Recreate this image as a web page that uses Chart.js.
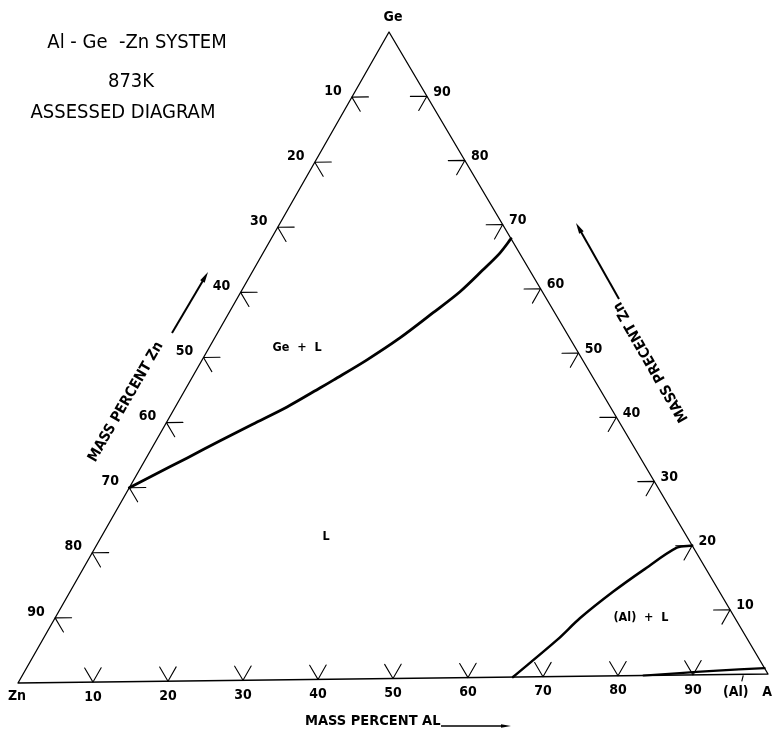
<!DOCTYPE html>
<html>
<head>
<meta charset="utf-8">
<title>Al-Ge-Zn system, 873 K</title>
<script src="https://cdn.jsdelivr.net/npm/chart.js@4.4.1/dist/chart.umd.min.js"></script>
<style>
  html, body { margin: 0; padding: 0; background: #fff; }
  #wrap { width: 773px; height: 729px; position: relative; }
</style>
</head>
<body>
<div id="wrap"><canvas id="chart"></canvas></div>
<script>
// ---- Data: compositions in mass percent (Al, Ge); Zn is the balance ----
const gridValues = [10, 20, 30, 40, 50, 60, 70, 80, 90];
const leftTickLabels = ['10', '20', '30', '40', '50', '60', '70', '80', '90'];   // mass % Zn on the Ge-Zn side
const rightTickLabels = ['10', '20', '30', '40', '50', '60', '70', '80', '90'];  // mass % Ge on the Al-Ge side
const bottomTickLabels = ['10', '20', '30', '40', '50', '60', '70', '80', '90']; // mass % Al on the Zn-Al side

// Ge + L / L boundary (Ge liquidus)
const geLiquidusAl = [0, 2.2, 5.5, 8.6, 11.7, 15.0, 18.0, 19.2, 22.1, 24.9, 27.4, 29.4, 30.8, 31.8, 32.2];
const geLiquidusGe = [30, 31.8, 34.5, 37.1, 39.6, 42.2, 45.1, 46.3, 49.3, 52.7, 56.5, 59.7, 63.0, 65.6, 67.8];

// (Al) + L / L boundary (Al liquidus)
const alLiquidusAl = [66.0, 69.1, 70.5, 72.9, 75.3, 78.1, 80.0];
const alLiquidusGe = [0, 5.7, 9.0, 13.0, 16.3, 19.7, 20.0];

// (Al) / (Al) + L boundary (Al solidus)
const alSolidusAl = [83.4, 88.1, 92.4, 99.1];
const alSolidusGe = [0, 0.3, 0.6, 0.9];

// ---- Ternary projection: pure-component corners in plot units ----
const CORNER = { zn: [18, 683], al: [768, 674], ge: [389, 32] };
function toXY(al, ge) {
  const zn = 100 - al - ge;
  return {
    x: (zn * CORNER.zn[0] + al * CORNER.al[0] + ge * CORNER.ge[0]) / 100,
    y: (zn * CORNER.zn[1] + al * CORNER.al[1] + ge * CORNER.ge[1]) / 100
  };
}
const curve = (als, ges) => als.map((a, i) => toXY(a, ges[i]));
const GAP = { x: null, y: null };

// Short grid stubs at every 10 mass % on the three sides
const STUB = 2.2;
const tickPoints = [];
gridValues.forEach(v => {
  // Ge-Zn side, Zn = v
  tickPoints.push(toXY(STUB, 100 - v), toXY(0, 100 - v), toXY(STUB, 100 - v - STUB), GAP);
  // Al-Ge side, Ge = v
  tickPoints.push(toXY(100 - v - STUB, v), toXY(100 - v, v), toXY(100 - v, v - STUB), GAP);
  // Zn-Al side, Al = v
  tickPoints.push(toXY(v - STUB, STUB), toXY(v, 0), toXY(v, STUB), GAP);
});

const lineSet = (data, width, tension) => ({
  data, showLine: true, fill: false, borderColor: '#000', borderWidth: width,
  pointRadius: 0, pointHoverRadius: 0, tension: tension || 0,
  borderCapStyle: 'round', borderJoinStyle: 'round'
});

const FAMILY = '"DejaVu Sans Condensed", "Liberation Sans Narrow", sans-serif';
const NUM_FONT = 'bold 14px ' + FAMILY;
const TITLE_FONT = '20px ' + FAMILY;
const AXIS_FONT = 'bold 14.5px ' + FAMILY;
const FIELD_FONT = 'bold 12.5px ' + FAMILY;

function arrow(ctx, x0, y0, x1, y1, head, half, width) {
  const ang = Math.atan2(y1 - y0, x1 - x0);
  ctx.lineWidth = width;
  ctx.beginPath();
  ctx.moveTo(x0, y0);
  ctx.lineTo(x1 - Math.cos(ang) * head * 0.6, y1 - Math.sin(ang) * head * 0.6);
  ctx.stroke();
  ctx.beginPath();
  ctx.moveTo(x1, y1);
  ctx.lineTo(x1 - Math.cos(ang) * head - Math.sin(ang) * half, y1 - Math.sin(ang) * head + Math.cos(ang) * half);
  ctx.lineTo(x1 - Math.cos(ang) * head + Math.sin(ang) * half, y1 - Math.sin(ang) * head - Math.cos(ang) * half);
  ctx.closePath();
  ctx.fill();
}

// Labels, axis captions and arrows drawn on top of the plotted lines
const ternaryText = {
  id: 'ternaryText',
  afterDatasetsDraw(chart) {
    const ctx = chart.ctx;
    const sx = chart.scales.x, sy = chart.scales.y;
    const P = (al, ge) => { const q = toXY(al, ge); return [sx.getPixelForValue(q.x), sy.getPixelForValue(q.y)]; };
    const text = (s, x, y, font, rot) => {
      ctx.save();
      ctx.translate(x, y);
      if (rot) ctx.rotate(rot);
      ctx.font = font;
      ctx.textAlign = 'center';
      ctx.textBaseline = 'middle';
      ctx.fillText(s, 0, 0);
      ctx.restore();
    };
    ctx.save();
    ctx.fillStyle = '#000';
    ctx.strokeStyle = '#000';

    // tick numbers
    gridValues.forEach((v, i) => {
      let p = P(0, 100 - v);
      text(leftTickLabels[i], p[0] - 19, p[1] - 6, NUM_FONT);
      p = P(100 - v, v);
      text(rightTickLabels[i], p[0] + 15, p[1] - 4, NUM_FONT);
      p = P(v, 0);
      text(bottomTickLabels[i], p[0], p[1] + 15, NUM_FONT);
    });

    // corner names
    let p = P(0, 100);
    text('Ge', p[0] + 4, p[1] - 15, NUM_FONT);
    p = P(0, 0);
    text('Zn', p[0] - 1, p[1] + 13, NUM_FONT);
    p = P(100, 0);
    text('A', p[0] - 1, p[1] + 18, NUM_FONT);
    p = P(96.5, 0);
    text('(Al)', p[0] - 6, p[1] + 18, NUM_FONT);
    // small mark at the (Al) limit on the Zn-Al side
    p = P(96.7, 0);
    ctx.lineWidth = 1.2;
    ctx.beginPath();
    ctx.moveTo(p[0], p[1] + 1);
    ctx.lineTo(p[0] - 1.5, p[1] + 7);
    ctx.stroke();

    // phase fields
    text('Ge  +  L', 297, 348, FIELD_FONT);
    text('L', 326, 537, FIELD_FONT);
    text('(Al)  +  L', 641, 618, FIELD_FONT);

    // heading
    text('Al - Ge  -Zn SYSTEM', 137, 43, TITLE_FONT);
    text('873K', 131, 82, TITLE_FONT);
    text('ASSESSED DIAGRAM', 123, 113, TITLE_FONT);

    // side captions with arrows
    text('MASS PERCENT Zn', 126, 402, AXIS_FONT, -Math.PI / 3);
    arrow(ctx, 172, 333, 208, 272, 11, 2.6, 2);
    text('MASS PRECENT Zn', 651, 362, AXIS_FONT, -2 * Math.PI / 3);
    arrow(ctx, 619, 299, 576, 223, 11, 2.6, 2);
    ctx.font = AXIS_FONT;
    ctx.textAlign = 'left';
    ctx.textBaseline = 'middle';
    ctx.fillText('MASS PERCENT AL', 305, 721);
    arrow(ctx, 441, 726, 511, 726, 10, 1.8, 1.6);
    ctx.restore();
  }
};

new Chart(document.getElementById('chart'), {
  type: 'scatter',
  data: {
    datasets: [
      lineSet([toXY(0, 0), toXY(100, 0), toXY(0, 100), toXY(0, 0)], 1.3),
      lineSet(tickPoints, 1.1),
      lineSet(curve(geLiquidusAl, geLiquidusGe), 2.8, 0.3),
      lineSet(curve(alLiquidusAl, alLiquidusGe), 2.5, 0.3),
      lineSet(curve(alSolidusAl, alSolidusGe), 2.2, 0.2)
    ]
  },
  options: {
    responsive: true,
    maintainAspectRatio: false,
    animation: false,
    spanGaps: false,
    layout: { padding: 0 },
    plugins: { legend: { display: false }, tooltip: { enabled: false } },
    events: [],
    scales: {
      x: { type: 'linear', min: 0, max: 773, display: false },
      y: { type: 'linear', min: 0, max: 729, reverse: true, display: false }
    }
  },
  plugins: [ternaryText]
});
</script>
</body>
</html>
